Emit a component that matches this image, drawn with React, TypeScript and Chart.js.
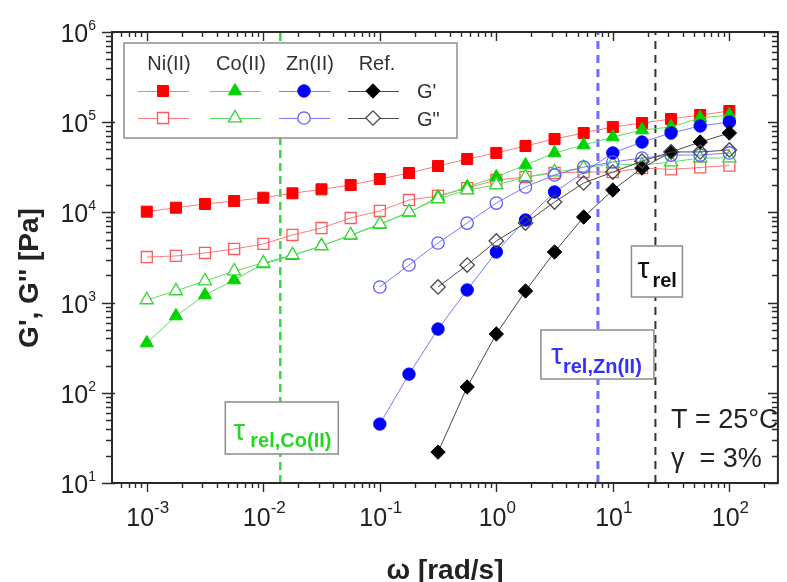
import React, { useEffect, useRef } from 'react';
import { Chart, registerables } from 'chart.js';

Chart.register(...registerables);

// ---------------- data ----------------
const omega = [0.001, 0.00178, 0.00316, 0.00562, 0.01, 0.0178, 0.0316, 0.0562, 0.1, 0.178, 0.316, 0.562, 1, 1.78, 3.16, 5.62, 10, 17.8, 31.6, 56.2, 100];

const niG1 = [10190, 11270, 12390, 13370, 14550, 16290, 18030, 20140, 23440, 27350, 32660, 39080, 45600, 54450, 65160, 75860, 88510, 97950, 108400, 120200, 133000];
const niG2 = [3200, 3290, 3550, 3930, 4470, 5620, 6710, 8670, 10370, 13710, 15210, 18620, 22860, 24660, 27350, 28050, 28000, 31000, 30000, 31500, 33000];
const coG1 = [356, 710, 1213, 1782, 2680, 3310, 4270, 5560, 7330, 10000, 14830, 19140, 24660, 33500, 45600, 55850, 68550, 81850, 88510, 111400, 120200];
const coG2 = [1070, 1346, 1734, 2239, 2748, 3373, 4246, 5610, 7430, 10090, 14090, 17700, 20140, 24660, 28050, 31050, 34500, 33500, 36200, 40100, 40100];
const znG1 = [null, null, null, null, null, null, null, null, 45, 161, 509, 1380, 3640, 8240, 16830, null, 45600, 60260, 75860, 90780, 100500];
const znG2 = [null, null, null, null, null, null, null, null, 1490, 2610, 4580, 7620, 12700, 19140, 26000, 31800, 36200, 40100, 43250, 43250, 45600];
const refG1 = [null, null, null, null, null, null, null, null, null, null, 22, 116, 449, 1345, 3640, 8890, 17700, 31000, 46800, 60260, 75860];
const refG2 = [null, null, null, null, null, null, null, null, null, null, 1490, 2610, 4820, 7620, 13030, 21180, 28000, 37000, 46800, 46800, 49200];

const sampleNames = ['Ni(II)', 'Co(II)', 'Zn(II)', 'Ref.'];
const moduliNames = ["G'", 'G"'];

const tauCo = 0.014;
const tauZn = 7.45;
const tauRef = 23.2;

const xTickExps = [-3, -2, -1, 0, 1, 2];
const yTickExps = [1, 2, 3, 4, 5, 6];
const X_MIN = 5.03e-4;
const X_MAX = 261;
const Y_MIN = 10;
const Y_MAX = 1e6;

const xTitle = 'ω [rad/s]';
const yTitle = "G', G'' [Pa]";
const condT = 'T = 25°C';
const condG = 'γ  = 3%';

// ---------------- styles ----------------
const FONT = '"Liberation Sans", Arial, Helvetica, sans-serif';

type Style = {
  shape: string; color: string; line: string; open: string; r: number;
};
const styles: Style[] = [
  { shape: 'rect', color: '#ff0000', line: '#ff7a7a', open: '#ff5a5a', r: 7.8 },
  { shape: 'triangle', color: '#00d400', line: '#5fdc5f', open: '#33d633', r: 7.6 },
  { shape: 'circle', color: '#0000ff', line: '#7a7aff', open: '#5c5cff', r: 6.2 },
  { shape: 'rectRot', color: '#000000', line: '#4a4a4a', open: '#4a4a4a', r: 7.2 },
];

const pts = (ys: (number | null)[]) => omega.map((x, i) => ({ x, y: ys[i] }));

function series(label: string, ys: (number | null)[], s: Style, filled: boolean, order: number, whiteFill = false) {
  return {
    label,
    data: pts(ys),
    showLine: true,
    spanGaps: true,
    borderColor: s.line,
    borderWidth: 1,
    pointStyle: s.shape,
    pointRadius: s.r,
    pointHoverRadius: s.r,
    pointBackgroundColor: filled ? s.color : (whiteFill ? '#ffffff' : 'rgba(255,255,255,0)'),
    pointBorderColor: filled ? s.color : s.open,
    pointBorderWidth: filled ? 1 : 1.3,
    order,
  };
}

function vline(label: string, x: number, color: string, width: number, dash: number[]) {
  return {
    label,
    data: [{ x, y: Y_MIN }, { x, y: Y_MAX }],
    showLine: true,
    borderColor: color,
    borderWidth: width,
    borderDash: dash,
    pointRadius: 0,
    order: 50,
  };
}

function drawMarker(ctx: CanvasRenderingContext2D, shape: string, x: number, y: number, r: number, fill: string | null, stroke: string, lw: number) {
  ctx.save();
  ctx.beginPath();
  if (shape === 'rect') {
    const s = r * Math.SQRT1_2;
    ctx.rect(x - s, y - s, 2 * s, 2 * s);
  } else if (shape === 'circle') {
    ctx.arc(x, y, r, 0, Math.PI * 2);
  } else if (shape === 'triangle') {
    let rad = 0;
    ctx.moveTo(x + Math.sin(rad) * r, y - Math.cos(rad) * r);
    rad += (2 * Math.PI) / 3;
    ctx.lineTo(x + Math.sin(rad) * r, y - Math.cos(rad) * r);
    rad += (2 * Math.PI) / 3;
    ctx.lineTo(x + Math.sin(rad) * r, y - Math.cos(rad) * r);
    ctx.closePath();
  } else {
    ctx.moveTo(x - r, y);
    ctx.lineTo(x, y - r);
    ctx.lineTo(x + r, y);
    ctx.lineTo(x, y + r);
    ctx.closePath();
  }
  if (fill) {
    ctx.fillStyle = fill;
    ctx.fill();
  }
  ctx.strokeStyle = stroke;
  ctx.lineWidth = lw;
  ctx.stroke();
  ctx.restore();
}

function tauBox(ctx: CanvasRenderingContext2D, cx: number, top: number, w: number, h: number, sub: string, color: string, tauDx: number, tauBase: number, subDx: number, subBase: number) {
  const left = cx - w / 2;
  ctx.save();
  ctx.fillStyle = '#ffffff';
  ctx.fillRect(left, top, w, h);
  ctx.strokeStyle = '#8c8c8c';
  ctx.lineWidth = 1.5;
  ctx.strokeRect(left, top, w, h);
  ctx.fillStyle = color;
  ctx.textAlign = 'left';
  ctx.textBaseline = 'alphabetic';
  ctx.font = `30px ${FONT}`;
  ctx.fillText('τ', left + tauDx, tauBase);
  ctx.font = `bold 20px ${FONT}`;
  ctx.fillText(sub, left + subDx, subBase);
  ctx.restore();
}

const decor = {
  id: 'decor',
  afterDatasetsDraw(chart: any) {
    const { ctx, chartArea: a } = chart;
    const xs = chart.scales.x;
    const ys = chart.scales.y;
    ctx.save();

    // frame
    ctx.strokeStyle = '#2a2a2a';
    ctx.lineWidth = 2;
    ctx.strokeRect(a.left, a.top, a.right - a.left, a.bottom - a.top);

    // ticks
    ctx.lineWidth = 1.4;
    for (let e = -4; e <= 3; e++) {
      for (let m = 1; m <= 9; m++) {
        const v = m * Math.pow(10, e);
        if (v < X_MIN * 0.999 || v > X_MAX * 1.001) continue;
        const px = Math.round(xs.getPixelForValue(v)) + 0.5;
        const L = m === 1 ? 9 : 5;
        ctx.beginPath();
        ctx.moveTo(px, a.bottom);
        ctx.lineTo(px, a.bottom + L);
        ctx.moveTo(px, a.top);
        ctx.lineTo(px, a.top + L);
        ctx.stroke();
      }
    }
    for (let e = 1; e <= 6; e++) {
      for (let m = 1; m <= 9; m++) {
        const v = m * Math.pow(10, e);
        if (v < Y_MIN * 0.999 || v > Y_MAX * 1.001) continue;
        const py = Math.round(ys.getPixelForValue(v)) + 0.5;
        const L = m === 1 ? 10 : 6;
        ctx.beginPath();
        ctx.moveTo(a.left - L, py);
        ctx.lineTo(a.left + (m === 1 ? 3 : 0), py);
        ctx.moveTo(a.right, py);
        ctx.lineTo(a.right - L, py);
        ctx.stroke();
      }
    }

    // tick labels
    ctx.fillStyle = '#222';
    ctx.textAlign = 'left';
    ctx.textBaseline = 'alphabetic';
    for (const e of xTickExps) {
      const px = xs.getPixelForValue(Math.pow(10, e));
      ctx.font = `25px ${FONT}`;
      const w1 = ctx.measureText('10').width;
      ctx.font = `17px ${FONT}`;
      const sup = String(e);
      const w2 = ctx.measureText(sup).width;
      const start = px - (w1 + w2) / 2 + 1;
      ctx.font = `25px ${FONT}`;
      ctx.fillText('10', start, 526);
      ctx.font = `17px ${FONT}`;
      ctx.fillText(sup, start + w1, 513);
    }
    for (const e of yTickExps) {
      const py = ys.getPixelForValue(Math.pow(10, e));
      ctx.font = `14px ${FONT}`;
      const sup = String(e);
      const w2 = ctx.measureText(sup).width;
      ctx.font = `25px ${FONT}`;
      const w1 = ctx.measureText('10').width;
      const right = 96;
      ctx.fillText('10', right - w2 - w1, py + 10);
      ctx.font = `14px ${FONT}`;
      ctx.fillText(sup, right - w2, py - 2);
    }

    // axis titles
    ctx.font = `bold 28px ${FONT}`;
    ctx.textAlign = 'center';
    ctx.fillText(xTitle, (a.left + a.right) / 2, 579);
    ctx.save();
    ctx.translate(38, 278);
    ctx.rotate(-Math.PI / 2);
    ctx.fillText(yTitle, 0, 0);
    ctx.restore();

    // tau boxes
    tauBox(ctx, xs.getPixelForValue(tauCo) + 1.5, 402, 113, 52, 'rel,Co(II)', '#22d822', 8, 440, 25, 447);
    tauBox(ctx, xs.getPixelForValue(tauZn) - 0.5, 330, 113, 49, 'rel,Zn(II)', '#3030ff', 10, 364, 22, 373);
    tauBox(ctx, xs.getPixelForValue(tauRef) + 1.5, 246, 51, 51, 'rel', '#111', 6, 278, 21, 287);

    // conditions text
    ctx.fillStyle = '#222';
    ctx.textAlign = 'left';
    ctx.font = `27px ${FONT}`;
    ctx.fillText(condT, 671, 428);
    ctx.fillText(condG, 671, 467);

    // legend
    const lx = 124, ly = 43, lw = 333, lh = 95;
    ctx.fillStyle = '#ffffff';
    ctx.fillRect(lx, ly, lw, lh);
    ctx.strokeStyle = '#8f8f8f';
    ctx.lineWidth = 1.5;
    ctx.strokeRect(lx, ly, lw, lh);
    const colX = [163, 235, 304, 373];
    const rowY = [91, 118];
    ctx.font = `20px ${FONT}`;
    ctx.fillStyle = '#333';
    ctx.textAlign = 'center';
    sampleNames.forEach((n, i) => ctx.fillText(n, colX[i] + (i === 3 ? 4 : 6), 70));
    styles.forEach((s, i) => {
      rowY.forEach((y, j) => {
        ctx.strokeStyle = s.line;
        ctx.lineWidth = 1;
        ctx.beginPath();
        ctx.moveTo(colX[i] - 25, y + 0.5);
        ctx.lineTo(colX[i] + 26, y + 0.5);
        ctx.stroke();
        if (j === 0) drawMarker(ctx, s.shape, colX[i], y, s.r, s.color, s.color, 1);
        else drawMarker(ctx, s.shape, colX[i], y, s.r, '#ffffff', s.open, 1.3);
      });
    });
    ctx.fillStyle = '#333';
    ctx.textAlign = 'left';
    ctx.fillText(moduliNames[0], 417, 98);
    ctx.fillText(moduliNames[1], 417, 126);

    ctx.restore();
  },
};

export default function App() {
  const ref = useRef<HTMLCanvasElement>(null);
  useEffect(() => {
    const canvas = ref.current;
    if (!canvas) return;
    const datasets: any[] = [
      series("Ni(II) G'", niG1, styles[0], true, 8),
      series('Ni(II) G"', niG2, styles[0], false, 7),
      series("Co(II) G'", coG1, styles[1], true, 6),
      series('Co(II) G"', coG2, styles[1], false, 5, true),
      series("Zn(II) G'", znG1, styles[2], true, 4),
      series('Zn(II) G"', znG2, styles[2], false, 3),
      series("Ref. G'", refG1, styles[3], true, 2),
      series('Ref. G"', refG2, styles[3], false, 1),
      vline('tau Co', tauCo, '#3fd43f', 2.5, [8, 5]),
      vline('tau Zn', tauZn, '#6b6bff', 3, [8, 6]),
      vline('tau Ref', tauRef, '#333333', 2, [8, 6]),
    ];
    const chart = new Chart(canvas, {
      type: 'scatter',
      data: { datasets },
      options: {
        animation: false,
        responsive: false,
        layout: { padding: { left: 112, top: 32, right: 4, bottom: 99 } },
        plugins: { legend: { display: false }, tooltip: { enabled: false } },
        scales: {
          x: { type: 'logarithmic', min: X_MIN, max: X_MAX, display: false },
          y: { type: 'logarithmic', min: Y_MIN, max: Y_MAX, display: false },
        },
        elements: { line: { tension: 0 } },
      } as any,
      plugins: [decor],
    });
    return () => chart.destroy();
  }, []);
  return (
    <div style={{ position: 'absolute', left: 0, top: 0, width: 787, height: 582, background: '#ffffff' }}>
      <canvas ref={ref} width={787} height={582} style={{ display: 'block' }} />
    </div>
  );
}
